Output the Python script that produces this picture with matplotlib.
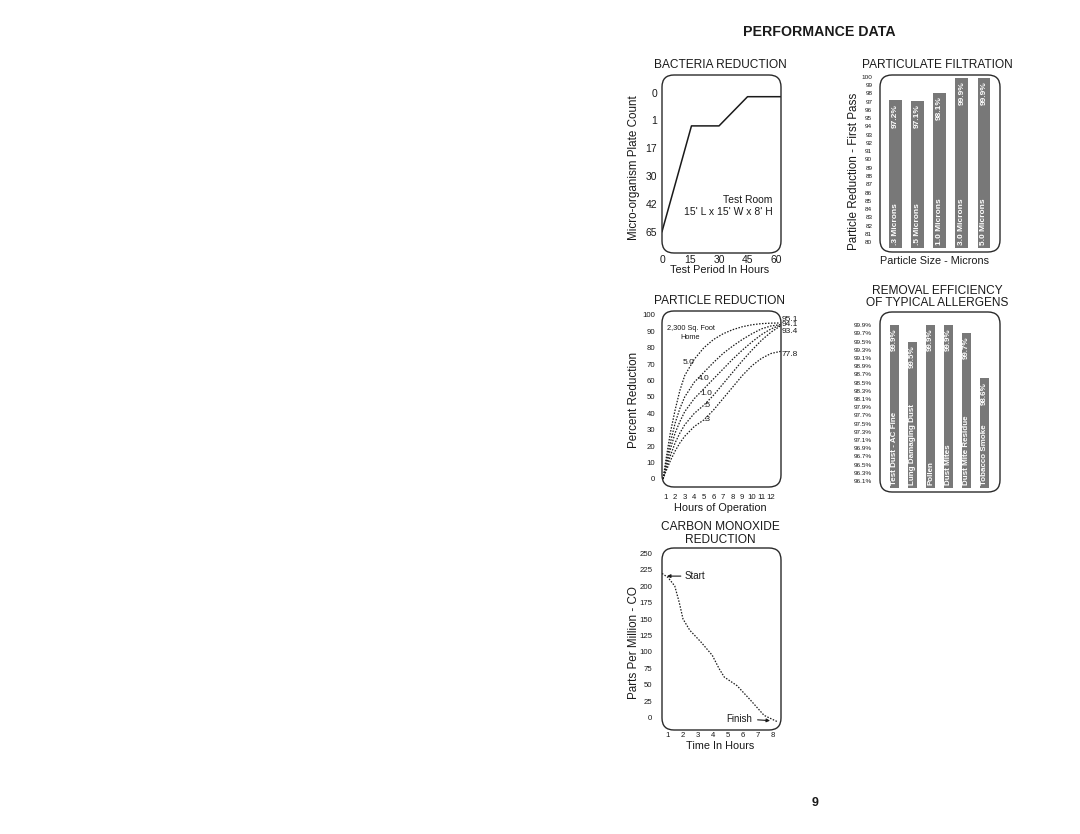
import matplotlib
matplotlib.use('Agg')
import matplotlib.pyplot as plt
from matplotlib.patches import FancyBboxPatch

W, H = 1080, 834
plt.rcParams['font.family'] = ['Liberation Sans', 'DejaVu Sans']
INK = '#1a1a1a'
BAR = '#787878'

# ---------------- data ----------------
bact_hours = [0, 15.5, 30, 45, 62.6]
bact_levels = [5.0, 1.2, 1.2, 0.15, 0.15]          # position on plate-count axis
bact_ylabels = ['0', '1', '17', '30', '42', '65']
bact_xticks = [0, 15, 30, 45, 60]

pf_sizes = ['.3 Microns', '.5 Microns', '1.0 Microns', '3.0 Microns', '5.0 Microns']
pf_values = [97.2, 97.1, 98.1, 99.9, 99.9]
pf_yticks = list(range(80, 101))

pr_hours = [0.75, 1, 1.5, 2, 2.5, 3, 4, 5, 6, 7, 8, 9, 10, 11, 12, 13.0]
pr_5_0 = [0, 10, 28, 42, 54, 63, 73, 80, 85, 88.5, 91, 92.8, 94, 94.7, 95.0, 95.1]
pr_4_0 = [0, 8, 22, 34, 43, 50, 59, 65, 71, 76.5, 81, 85, 88.5, 91.5, 93.3, 94.1]
pr_1_0 = [0, 6, 18, 28, 35, 41, 49, 55, 61, 67, 73, 78.5, 83.5, 88, 91.5, 93.8]
pr_0_5 = [0, 5, 14, 22, 28, 33, 40, 45, 51, 58, 65, 72, 78.5, 84.5, 89.5, 93.4]
pr_0_3 = [0, 4, 11, 17, 22, 26, 32, 36, 42, 49, 56, 63, 69, 73.5, 76.5, 77.8]
pr_curve_labels = ['5.0', '4.0', '1.0', '.5', '.3']
pr_end_labels = ['95.1', '94.1', '93.4', '77.8']
pr_yticks = list(range(0, 101, 10))
pr_xticks = list(range(1, 13))

re_names = ['Test Dust - AC Fine', 'Lung Damaging Dust', 'Pollen', 'Dust Mites',
            'Dust Mite Residue', 'Tobacco Smoke']
re_values = [99.9, 99.5, 99.9, 99.9, 99.7, 98.6]
re_yticks = [99.9, 99.7, 99.5, 99.3, 99.1, 98.9, 98.7, 98.5, 98.3, 98.1,
             97.9, 97.7, 97.5, 97.3, 97.1, 96.9, 96.7, 96.5, 96.3, 96.1]

co_hours = [0.6, 1.0, 1.45, 1.75, 2.0, 2.45, 3.2, 3.95, 4.4, 4.75, 5.6, 6.5, 7.4, 7.95, 8.33]
co_ppm = [219, 213, 200, 175, 150, 133, 115, 95, 75, 62, 49, 27, 4, -2, -6]
co_yticks = list(range(0, 251, 25))
co_xticks = list(range(1, 9))

# ---------------- helpers ----------------
fig = plt.figure(figsize=(W / 100, H / 100), dpi=100)
fig.patch.set_facecolor('white')


def make_ax(x0, y0, x1, y1):
    ax = fig.add_axes([x0 / W, 1 - y1 / H, (x1 - x0) / W, (y1 - y0) / H])
    for s in ax.spines.values():
        s.set_visible(False)
    ax.set_facecolor('none')
    ax.tick_params(length=0, colors=INK)
    box = FancyBboxPatch((x0 / 100, (H - y1) / 100), (x1 - x0) / 100, (y1 - y0) / 100,
                         boxstyle='round,pad=0,rounding_size=0.12',
                         transform=fig.dpi_scale_trans, fill=False,
                         ec='#2a2a2a', lw=1.0, zorder=5)
    fig.add_artist(box)
    return ax


def ftext(x, y, s, **kw):
    kw.setdefault('color', INK)
    kw.setdefault('ha', 'center')
    kw.setdefault('va', 'center')
    fig.text(x / W, 1 - y / H, s, **kw)


# ---------------- page title ----------------
ftext(819, 32, 'PERFORMANCE DATA', fontsize=10.2, fontweight='bold')
ftext(815, 803, '9', fontsize=9, fontweight='bold')

# ---------------- bacteria reduction ----------------
ax = make_ax(662, 75, 781, 253)
ax.plot(bact_hours, bact_levels, color=INK, lw=1.1)
ax.set_xlim(0, 62.6)
ax.set_ylim(5.77, -0.63)
ax.set_yticks(range(len(bact_ylabels)))
ax.set_yticklabels(bact_ylabels, fontsize=7.5)
ax.set_xticks(bact_xticks)
ax.set_xticklabels([str(t) for t in bact_xticks], fontsize=7.5)
ax.tick_params(axis='y', pad=3.5)
ax.tick_params(axis='x', pad=1.5)
ax.text(58, 3.85, 'Test Room', ha='right', va='center', fontsize=7.5, color=INK)
ax.text(58, 4.28, "15' L x 15' W x 8' H", ha='right', va='center', fontsize=7.5, color=INK)
ftext(720, 65, 'BACTERIA REDUCTION', fontsize=8.6)
ftext(720, 270, 'Test Period In Hours', fontsize=7.8)
ftext(634, 168, 'Micro-organism Plate Count', fontsize=8.4, rotation=90)

# ---------------- particulate filtration ----------------
ax = make_ax(880, 75, 1000, 252)
base = 79.25
xs = list(range(len(pf_values)))
ax.bar(xs, [v - base for v in pf_values], bottom=base, width=0.57, color=BAR)
for x, v, s in zip(xs, pf_values, pf_sizes):
    ax.text(x, v - 0.45, f'{v}%', rotation=90, ha='center', va='top',
            fontsize=6, fontweight='bold', color='white')
    ax.text(x, base + 0.35, s, rotation=90, ha='center', va='bottom',
            fontsize=6, fontweight='bold', color='white')
ax.set_xlim(-0.70, 4.73)
ax.set_ylim(78.79, 100.24)
ax.set_xticks([])
ax.set_yticks(pf_yticks)
ax.set_yticklabels([str(t) for t in pf_yticks], fontsize=4.6)
ax.tick_params(axis='y', pad=5.5)
ftext(937, 65, 'PARTICULATE FILTRATION', fontsize=8.6)
ftext(934, 261, 'Particle Size - Microns', fontsize=7.8)
ftext(854, 171, 'Particle Reduction - First Pass', fontsize=8.4, rotation=90)

# ---------------- particle reduction ----------------
ax = make_ax(662, 311, 781, 487)
curves = [pr_5_0, pr_4_0, pr_1_0, pr_0_5, pr_0_3]
for c in curves:
    ax.plot(pr_hours, c, color=INK, lw=0.9, ls=(0, (1.2, 1.2)))
lab_pos = [(3.4, 71), (5.0, 61), (5.2, 52), (5.35, 45), (5.35, 36)]
for (hx, vy), s in zip(lab_pos, pr_curve_labels):
    ax.text(hx, vy, s, fontsize=6, ha='center', va='center', color=INK)
ax.text(3.6, 91.5, '2,300 Sq. Foot', fontsize=5.3, ha='center', va='center', color=INK)
ax.text(3.6, 86.5, 'Home', fontsize=5.3, ha='center', va='center', color=INK)
end_y = [97.5, 94.2, 90.2, 76.0]
for yv, s in zip(end_y, pr_end_labels):
    ax.text(13.08, yv, s, fontsize=6, ha='left', va='center', color=INK, clip_on=False)
ax.set_xlim(0.635, 13.04)
ax.set_ylim(-4.9, 102.4)
ax.set_yticks(pr_yticks)
ax.set_yticklabels([str(t) for t in pr_yticks], fontsize=5.6)
ax.set_xticks(pr_xticks)
ax.set_xticklabels([str(t) for t in pr_xticks], fontsize=5.6)
ax.tick_params(axis='y', pad=5)
ax.tick_params(axis='x', pad=5)
ftext(720, 301, 'PARTICLE REDUCTION', fontsize=8.6)
ftext(720, 508, 'Hours of Operation', fontsize=7.8)
ftext(634, 400, 'Percent Reduction', fontsize=8.4, rotation=90)

# ---------------- removal efficiency ----------------
ax = make_ax(880, 312, 1000, 492)
base = 95.93
xs = list(range(len(re_values)))
ax.bar(xs, [v - base for v in re_values], bottom=base, width=0.46, color=BAR)
for x, v, s in zip(xs, re_values, re_names):
    ax.text(x, v - 0.08, f'{v}%', rotation=90, ha='center', va='top',
            fontsize=5.8, fontweight='bold', color='white')
    ax.text(x, base + 0.07, s, rotation=90, ha='center', va='bottom',
            fontsize=5.8, fontweight='bold', color='white')
ax.set_xlim(-0.81, 5.86)
ax.set_ylim(95.83, 100.22)
ax.set_xticks([])
ax.set_yticks(re_yticks)
ax.set_yticklabels([f'{t}%' for t in re_yticks], fontsize=4.6)
ax.tick_params(axis='y', pad=5.8)
ftext(937, 291, 'REMOVAL EFFICIENCY', fontsize=8.6)
ftext(937, 303, 'OF TYPICAL ALLERGENS', fontsize=8.6)

# ---------------- carbon monoxide ----------------
ax = make_ax(662, 548, 781, 730)
ax.plot(co_hours, co_ppm, color=INK, lw=0.9, ls=(0, (1.2, 1.2)))
ax.annotate('Start', xy=(0.93, 215), xytext=(2.13, 215), fontsize=7, color=INK,
            ha='left', va='center',
            arrowprops=dict(arrowstyle='-|>', color=INK, lw=0.8, mutation_scale=5,
                            shrinkA=1, shrinkB=0))
ax.annotate('Finish', xy=(7.8, -4), xytext=(6.6, -1), fontsize=7, color=INK,
            ha='right', va='center',
            arrowprops=dict(arrowstyle='-|>', color=INK, lw=0.8, mutation_scale=5,
                            shrinkA=2, shrinkB=0))
ax.set_xlim(0.6, 8.53)
ax.set_ylim(-18.2, 257.6)
ax.set_yticks(co_yticks)
ax.set_yticklabels([str(t) for t in co_yticks], fontsize=5.6)
ax.set_xticks(co_xticks)
ax.set_xticklabels([str(t) for t in co_xticks], fontsize=5.6)
ax.tick_params(axis='y', pad=7)
ax.tick_params(axis='x', pad=1.5)
ftext(720, 527, 'CARBON MONOXIDE', fontsize=8.6)
ftext(720, 540, 'REDUCTION', fontsize=8.6)
ftext(720, 746, 'Time In Hours', fontsize=7.8)
ftext(634, 643, 'Parts Per Million - CO', fontsize=8.4, rotation=90)

fig.savefig('out.png', dpi=100, facecolor='white')
